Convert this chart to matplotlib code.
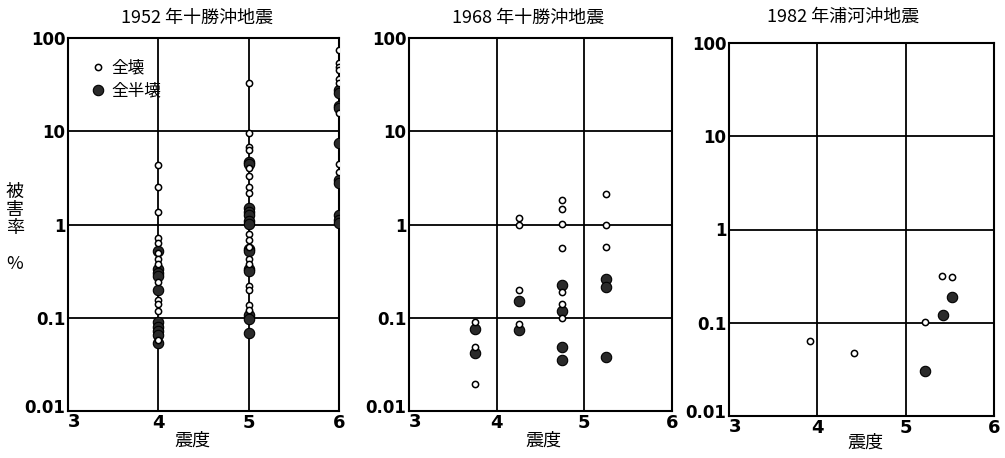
import numpy as np
import matplotlib
matplotlib.use("Agg")
import matplotlib.pyplot as plt
from matplotlib.transforms import ScaledTranslation

plt.rcParams['font.family'] = ['Noto Sans CJK JP', 'DejaVu Sans']

# 1952 十勝沖: 全壊 (open) / 全半壊 (filled)
p1_open_x = [4]*13 + [5]*17 + [6]*9
p1_open_y = [4.3, 2.5, 1.37, 0.72, 0.64, 0.49, 0.43, 0.38, 0.24, 0.154, 0.14, 0.118, 0.058,
             33, 9.5, 6.8, 6.3, 4.0, 3.3, 2.5, 2.2, 0.80, 0.69, 0.575, 0.43, 0.38, 0.218, 0.197,
             0.136, 0.122,
             74, 54, 49, 45.5, 36, 33, 15.8, 4.4, 3.7]
p1_fill_x = [4]*10 + [5]*14 + [6]*10
p1_fill_y = [0.52, 0.33, 0.30, 0.28, 0.197, 0.090, 0.080, 0.072, 0.065, 0.053,
             4.7, 4.4, 1.5, 1.37, 1.26, 1.1, 1.02, 0.55, 0.52, 0.337, 0.32, 0.106, 0.098, 0.069,
             28, 26, 18.6, 17.6, 7.5, 3.0, 2.8, 1.28, 1.13, 1.04]

# 1968 十勝沖
p2_open_x = [3.75]*3 + [4.25]*4 + [4.75]*7 + [5.25]*3
p2_open_y = [0.0895, 0.049, 0.0196,
             1.16, 0.98, 0.20, 0.086,
             1.81, 1.45, 1.02, 0.56, 0.19, 0.14, 0.10,
             2.13, 1.0, 0.57]
p2_fill_x = [3.75]*2 + [4.25]*2 + [4.75]*4 + [5.25]*3
p2_fill_y = [0.0765, 0.042,
             0.15, 0.073,
             0.227, 0.117, 0.048, 0.0356,
             0.263, 0.212, 0.038]

# 1982 浦河沖
p3_open_x = [3.92, 4.41, 5.22, 5.41, 5.52]
p3_open_y = [0.064, 0.047, 0.103, 0.32, 0.306]
p3_fill_x = [5.22, 5.42, 5.52]
p3_fill_y = [0.0306, 0.12, 0.19]

titles = ['1952 年十勝沖地震', '1968 年十勝沖地震', '1982 年浦河沖地震']
yticks = [0.01, 0.1, 1, 10, 100]
yticklabels = ['0.01', '0.1', '1', '10', '100']
xticks = [3, 4, 5, 6]

W, H = 1005, 458
fig = plt.figure(figsize=(W/100, H/100), dpi=100)

boxes = [(68, 38, 339, 411), (409, 38, 672, 411), (729, 43, 994, 416)]
title_pos = [(197, 18), (528, 18), (843, 17)]
xlabel_pos = [(192, 441), (543, 441), (865, 443)]
data = [(p1_open_x, p1_open_y, p1_fill_x, p1_fill_y),
        (p2_open_x, p2_open_y, p2_fill_x, p2_fill_y),
        (p3_open_x, p3_open_y, p3_fill_x, p3_fill_y)]

for i, ((l, t, r, b), (ox, oy, fx, fy)) in enumerate(zip(boxes, data)):
    ax = fig.add_axes([l/W, (H-b)/H, (r-l)/W, (b-t)/H])
    ax.set_yscale('log')
    ax.set_xlim(3, 6)
    ax.set_ylim(0.01, 100)
    for gx in [4, 5]:
        ax.axvline(gx, color='black', lw=1.3, zorder=1)
    for gy in [0.1, 1, 10]:
        ax.axhline(gy, color='black', lw=1.3, zorder=1)
    ax.plot(fx, fy, 'o', ms=7.5, mfc='#2a2a2a', mec='black', mew=0.8,
            ls='none', zorder=3, label='全半壊')
    ax.plot(ox, oy, 'o', ms=4.5, mfc='white', mec='black', mew=1.1,
            ls='none', zorder=4, label='全壊')
    for s in ax.spines.values():
        s.set_linewidth(1.5)
    ax.set_yticks(yticks)
    ax.set_yticklabels(yticklabels, fontweight='bold', fontsize=12,
                       family=['DejaVu Sans'])
    ax.minorticks_off()
    ax.set_xticks(xticks)
    ax.set_xticklabels([str(v) for v in xticks], fontweight='bold', fontsize=13,
                       family=['DejaVu Sans'])
    ax.tick_params(length=0, pad=2)
    # nudge the corner labels apart, as in the original
    x0 = ax.get_xticklabels()[0]
    x0.set_transform(x0.get_transform() + ScaledTranslation(0.06, 0.01, fig.dpi_scale_trans))
    y0 = ax.get_yticklabels()[0]
    y0.set_transform(y0.get_transform() + ScaledTranslation(0, 0.05, fig.dpi_scale_trans))
    fig.text(title_pos[i][0]/W, 1 - title_pos[i][1]/H, titles[i], fontsize=13,
             ha='center', va='center')
    fig.text(xlabel_pos[i][0]/W, 1 - xlabel_pos[i][1]/H, '震度', fontsize=13,
             ha='center', va='center')
    if i == 0:
        h, lab = ax.get_legend_handles_labels()
        ax.legend(h[::-1], lab[::-1], loc='upper left', frameon=False,
                  fontsize=12, handletextpad=0.3, borderaxespad=0.9,
                  handlelength=1.0, labelspacing=0.35)
        fig.text(15/W, 1 - 228/H, '被\n害\n率\n\n%', fontsize=13,
                 ha='center', va='center', linespacing=1.0)

fig.savefig('out.png', dpi=100)
